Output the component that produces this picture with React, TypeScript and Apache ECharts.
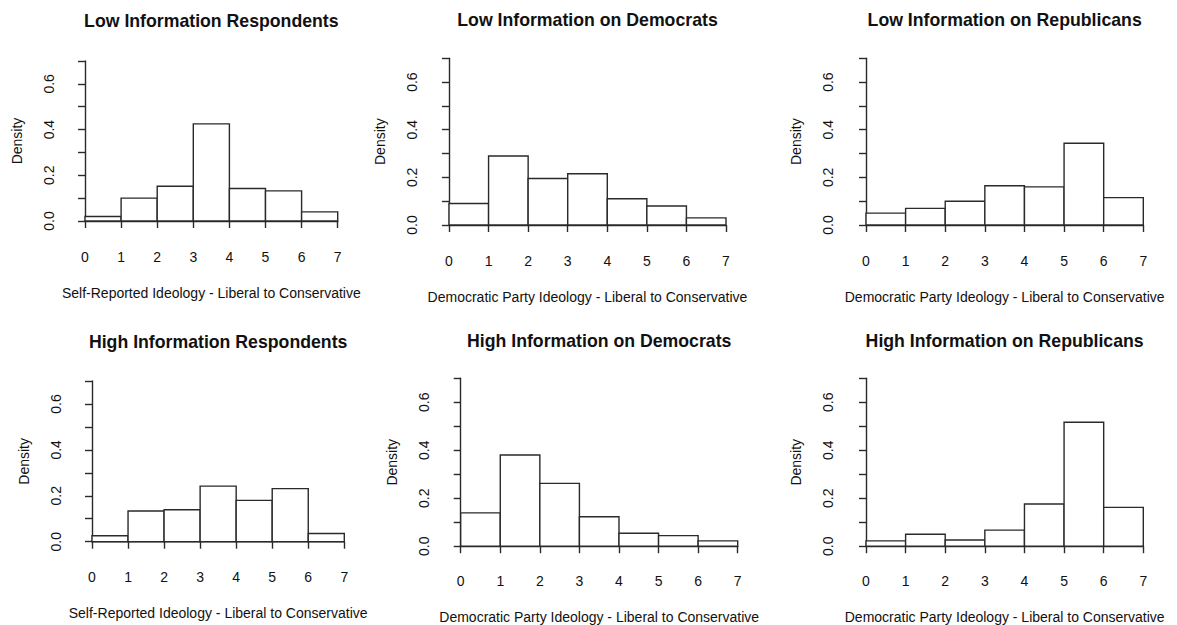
import React, { useEffect, useRef } from "react";
import * as echarts from "echarts";

// Histogram bin edges (ideology scale 0-7)
const binEdges = [0, 1, 2, 3, 4, 5, 6, 7];

// Density per unit-width bin
const lowRespondents = [0.02, 0.1, 0.152, 0.425, 0.142, 0.132, 0.04];
const lowDemocrats = [0.09, 0.29, 0.195, 0.215, 0.11, 0.08, 0.03];
const lowRepublicans = [0.05, 0.07, 0.1, 0.165, 0.16, 0.343, 0.115];
const highRespondents = [0.026, 0.134, 0.139, 0.242, 0.18, 0.231, 0.036];
const highDemocrats = [0.139, 0.38, 0.262, 0.123, 0.054, 0.044, 0.022];
const highRepublicans = [0.022, 0.05, 0.026, 0.067, 0.176, 0.517, 0.162];

const panelTitles = [
  "Low Information Respondents",
  "Low Information on Democrats",
  "Low Information on Republicans",
  "High Information Respondents",
  "High Information on Democrats",
  "High Information on Republicans",
];

const xTitles = [
  "Self-Reported Ideology - Liberal to Conservative",
  "Democratic Party Ideology - Liberal to Conservative",
  "Democratic Party Ideology - Liberal to Conservative",
  "Self-Reported Ideology - Liberal to Conservative",
  "Democratic Party Ideology - Liberal to Conservative",
  "Democratic Party Ideology - Liberal to Conservative",
];

const yTitle = "Density";

const panelData = [
  lowRespondents,
  lowDemocrats,
  lowRepublicans,
  highRespondents,
  highDemocrats,
  highRepublicans,
];

// Plot-region geometry for each panel (px)
const layout = [
  { left: 85, top: 61, width: 252.7, height: 160, yOff: 11, xOff: 6.7, titleY: 12 },
  { left: 449, top: 58.3, width: 277, height: 166.7, yOff: 11.7, xOff: 7.3, titleY: 11 },
  { left: 866, top: 58.3, width: 277.3, height: 166.7, yOff: 12.7, xOff: 7.3, titleY: 11 },
  { left: 92, top: 381, width: 252.3, height: 160.7, yOff: 11, xOff: 6.6, titleY: 333 },
  { left: 460.7, top: 378.3, width: 277, height: 168.4, yOff: 11.7, xOff: 5.8, titleY: 332 },
  { left: 866, top: 378.3, width: 277.3, height: 168.4, yOff: 12.7, xOff: 5.8, titleY: 332 },
];

const FONT = "'Liberation Sans', Arial, Helvetica, sans-serif";
const LINE = "#2a2a2a";
const TEXT = "#111";

export default function App() {
  const ref = useRef<HTMLDivElement>(null);

  useEffect(() => {
    if (!ref.current) return;
    const chart = echarts.init(ref.current, undefined, { renderer: "svg" });

    const grids = layout.map((g) => ({
      left: g.left,
      top: g.top,
      width: g.width,
      height: g.height,
      containLabel: false,
    }));

    const xAxes = layout.map((g, i) => ({
      gridIndex: i,
      type: "value",
      min: 0,
      max: 7,
      interval: 1,
      offset: g.xOff,
      axisLine: { show: true, lineStyle: { color: LINE, width: 1.4 } },
      axisTick: { show: true, length: 7, lineStyle: { color: LINE, width: 1.4 } },
      axisLabel: { fontSize: 14, color: TEXT, fontFamily: FONT, margin: 22 },
      splitLine: { show: false },
      name: xTitles[i],
      nameLocation: "middle",
      nameGap: 58,
      nameTextStyle: { fontSize: 14, color: TEXT, fontFamily: FONT },
    }));

    const yAxes = layout.map((g, i) => ({
      gridIndex: i,
      type: "value",
      min: 0,
      max: 0.7,
      interval: 0.1,
      offset: g.yOff,
      axisLine: { show: true, lineStyle: { color: LINE, width: 1.4 } },
      axisTick: { show: true, length: 7, lineStyle: { color: LINE, width: 1.4 } },
      axisLabel: {
        fontSize: 14,
        color: TEXT,
        fontFamily: FONT,
        rotate: 90,
        margin: 18,
        showMaxLabel: true,
        formatter: (v: number) =>
          Math.round(v * 10) % 2 === 0 ? v.toFixed(1) : "",
      },
      splitLine: { show: false },
      name: yTitle,
      nameLocation: "middle",
      nameGap: 50,
      nameRotate: 90,
      nameTextStyle: { fontSize: 14, color: TEXT, fontFamily: FONT },
    }));

    const series = panelData.map((vals, i) => ({
      type: "custom",
      xAxisIndex: i,
      yAxisIndex: i,
      data: vals.map((v, k) => [binEdges[k], binEdges[k + 1], v]),
      encode: { x: [0, 1], y: 2 },
      renderItem: (_params: any, api: any) => {
        const lo = api.value(0);
        const hi = api.value(1);
        const d = api.value(2);
        const p0 = api.coord([lo, d]);
        const p1 = api.coord([hi, 0]);
        return {
          type: "rect",
          shape: {
            x: p0[0],
            y: p0[1],
            width: p1[0] - p0[0],
            height: p1[1] - p0[1],
          },
          style: { fill: "#ffffff", stroke: LINE, lineWidth: 1.4 },
        };
      },
    }));

    const titles = layout.map((g, i) => ({
      text: panelTitles[i],
      left: g.left + g.width / 2,
      top: g.titleY,
      textAlign: "center",
      padding: 0,
      textStyle: {
        fontSize: 17.7,
        fontWeight: "bold",
        color: TEXT,
        fontFamily: FONT,
      },
    }));

    chart.setOption({
      animation: false,
      backgroundColor: "#ffffff",
      title: titles,
      grid: grids,
      xAxis: xAxes,
      yAxis: yAxes,
      series,
    });

    return () => chart.dispose();
  }, []);

  return (
    <div
      ref={ref}
      style={{ position: "fixed", left: 0, top: 0, width: 1177, height: 625 }}
    />
  );
}
